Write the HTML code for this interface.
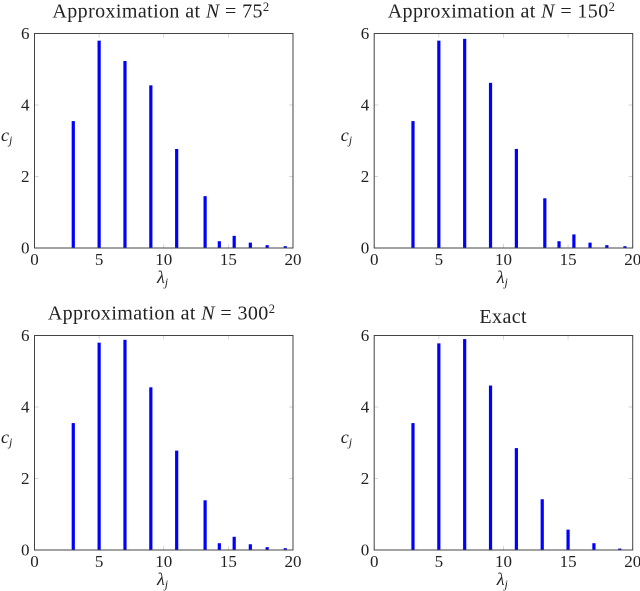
<!DOCTYPE html>
<html>
<head>
<meta charset="utf-8">
<style>
html,body{margin:0;padding:0;background:#fff;}
svg{display:block;filter:blur(0.35px);}
text{font-family:"Liberation Serif",serif;fill:#222;}
.title{font-size:20px;letter-spacing:0.4px;text-anchor:middle;}
.tick{font-size:17px;}
.math{font-style:italic;font-size:18px;}
.sub{font-style:italic;font-size:12px;}
.sup{font-size:12.5px;}
</style>
</head>
<body>
<svg id="figure" width="640" height="591" viewBox="0 0 640 591" xmlns="http://www.w3.org/2000/svg">
  <rect width="640" height="591" fill="#fff"/>

  <g id="panel-0">
    <text class="title" x="161" y="17.5">Approximation at <tspan font-style="italic">N</tspan> = 75<tspan class="sup" dy="-6.5">2</tspan></text>
    <text class="math" x="1" y="141">c<tspan class="sub" dy="3">j</tspan></text>
    <text class="math" x="157" y="283">λ<tspan class="sub" dy="3">j</tspan></text>
  </g>

  <g id="panel-1" transform="translate(339.7 0)">
    <text class="title" x="161.8" y="17.5">Approximation at <tspan font-style="italic">N</tspan> = 150<tspan class="sup" dy="-6.5">2</tspan></text>
    <text class="math" x="1" y="141">c<tspan class="sub" dy="3">j</tspan></text>
    <text class="math" x="157" y="283">λ<tspan class="sub" dy="3">j</tspan></text>
  </g>

  <g id="panel-2" transform="translate(0 302)">
    <text class="title" x="161.6" y="17.5">Approximation at <tspan font-style="italic">N</tspan> = 300<tspan class="sup" dy="-6.5">2</tspan></text>
    <text class="math" x="1" y="141">c<tspan class="sub" dy="3">j</tspan></text>
    <text class="math" x="157" y="283">λ<tspan class="sub" dy="3">j</tspan></text>
  </g>

  <g id="panel-3" transform="translate(339.7 302)">
    <text class="title" x="163.5" y="21">Exact</text>
    <text class="math" x="1" y="141">c<tspan class="sub" dy="3">j</tspan></text>
    <text class="math" x="157" y="283">λ<tspan class="sub" dy="3">j</tspan></text>
  </g>
</svg>

<script>
const xTicks = [0, 5, 10, 15, 20];
const yTicks = [0, 2, 4, 6];

const approxLambda = [3, 5, 7, 9, 11, 13.2, 14.3, 15.45, 16.7, 18, 19.4];
const exactLambda = [3, 5, 7, 9, 11, 13, 15, 17, 19];

const coeffN75 = [3.55, 5.8, 5.23, 4.55, 2.77, 1.45, 0.19, 0.34, 0.15, 0.08, 0.05];
const coeffN150 = [3.55, 5.8, 5.85, 4.62, 2.77, 1.39, 0.19, 0.38, 0.15, 0.08, 0.05];
const coeffN300 = [3.55, 5.8, 5.88, 4.55, 2.78, 1.39, 0.19, 0.37, 0.16, 0.08, 0.05];
const coeffExact = [3.55, 5.78, 5.9, 4.6, 2.85, 1.42, 0.57, 0.19, 0.04];

const SVG_NS = 'http://www.w3.org/2000/svg';
const plotLeft = 34.5, plotRight = 293, plotTop = 33.5, plotBottom = 248;
const xMax = 20, yMax = 6;

function xScale(v) { return plotLeft + (v / xMax) * (plotRight - plotLeft); }
function yScale(v) { return plotBottom - (v / yMax) * (plotBottom - plotTop); }

function line(parent, x1, y1, x2, y2, color, width) {
  const el = document.createElementNS(SVG_NS, 'line');
  el.setAttribute('x1', x1);
  el.setAttribute('y1', y1);
  el.setAttribute('x2', x2);
  el.setAttribute('y2', y2);
  el.setAttribute('stroke', color);
  el.setAttribute('stroke-width', width);
  parent.appendChild(el);
  return el;
}

function drawPanel(panelId, lambdas, values) {
  const panel = document.getElementById(panelId);

  xTicks.forEach(function (t) {
    const px = xScale(t);
    const low = line(panel, px, plotBottom, px, plotBottom - 4, '#ccc', 0.8);
    
    
    const high = line(panel, px, plotTop, px, plotTop + 4, '#ccc', 0.8);
    
    
    const label = document.createElementNS(SVG_NS, 'text');
    label.setAttribute('class', 'tick');
    label.setAttribute('x', px);
    label.setAttribute('y', 265);
    label.setAttribute('text-anchor', 'middle');
    
    
    label.textContent = String(t);
    panel.appendChild(label);
  });

  yTicks.forEach(function (t) {
    const py = yScale(t);
    const low = line(panel, plotLeft, py, plotLeft + 4, py, '#ccc', 0.8);
    
    
    const high = line(panel, plotRight, py, plotRight - 4, py, '#ccc', 0.8);
    
    
    const label = document.createElementNS(SVG_NS, 'text');
    label.setAttribute('class', 'tick');
    label.setAttribute('x', plotLeft - 5);
    label.setAttribute('y', py + 5.5);
    label.setAttribute('text-anchor', 'end');
    
    
    label.textContent = String(t);
    panel.appendChild(label);
  });

  lambdas.forEach(function (lam, i) {
    const bar = document.createElementNS(SVG_NS, 'rect');
    bar.setAttribute('x', xScale(lam) - 1.6);
    bar.setAttribute('y', yScale(values[i]));
    bar.setAttribute('width', 3.2);
    bar.setAttribute('height', plotBottom - yScale(values[i]));
    bar.setAttribute('fill', '#0000ff');
    
    
    panel.appendChild(bar);
  });

  const frame = document.createElementNS(SVG_NS, 'rect');
  frame.setAttribute('x', plotLeft);
  frame.setAttribute('y', plotTop);
  frame.setAttribute('width', plotRight - plotLeft);
  frame.setAttribute('height', plotBottom - plotTop);
  frame.setAttribute('fill', 'none');
  frame.setAttribute('stroke', '#444');
  frame.setAttribute('stroke-width', 1);
  
  
  panel.appendChild(frame);
}

drawPanel('panel-0', approxLambda, coeffN75);
drawPanel('panel-1', approxLambda, coeffN150);
drawPanel('panel-2', approxLambda, coeffN300);
drawPanel('panel-3', exactLambda, coeffExact);
</script>
</body>
</html>
